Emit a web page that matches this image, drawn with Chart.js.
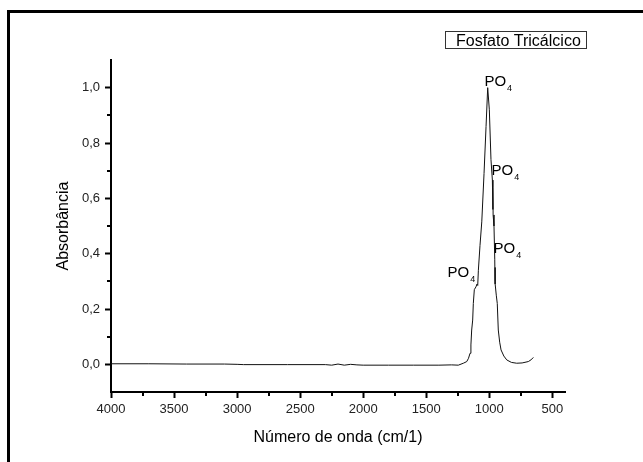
<!DOCTYPE html>
<html lang="pt">
<head>
    <meta charset="UTF-8">
    <title>Fosfato Tricálcico</title>
    <style>
        html, body {
            margin: 0;
            padding: 0;
            background: #fff;
            overflow: hidden;
        }
        .frame {
            position: absolute;
            left: 7px;
            top: 10px;
            width: 800px;
            height: 600px;
            border: 3px solid #000;
        }
        #chart {
            position: absolute;
            left: 0;
            top: 0;
        }
    </style>
</head>
<body>
    <div class="frame"></div>
    <canvas id="chart" width="643" height="462"></canvas>

    <script src="https://cdn.jsdelivr.net/npm/chart.js"></script>
    <script>
        // espectro (número de onda em cm-1, absorbância)
        const wavenumber = [
            4000, 3700, 3400, 3100, 3000, 2950, 2600, 2300, 2250, 2200, 2150, 2100, 2050, 2000,
            1800, 1600, 1400, 1300, 1246, 1206, 1179, 1165, 1153, 1146, 1140, 1132,
            1127, 1119, 1106, 1098, 1092, 1087, 1074, 1060, 1042, 1026, 1013, 1000,
            987, 976, 972, 971.5, 970, 963, 957, 955, 954.5, 953, 945, 937, 929, 918, 907, 885,
            862, 825, 783, 740, 691, 670, 651
        ];
        const absorbance = [
            0.002, 0.002, 0.001, 0.001, 0.000, -0.001, -0.001, -0.001, -0.003, 0.001, -0.003, 0.000, -0.002, -0.003,
            -0.003, -0.003, -0.003, -0.002, -0.003, 0.004, 0.01, 0.022, 0.04, 0.07, 0.124, 0.16,
            0.22, 0.27, 0.28, 0.29, 0.285, 0.34, 0.43, 0.515, 0.69, 0.86, 1.0, 0.92,
            0.74, 0.666, 0.56, 0.64, 0.54, 0.50, 0.38, 0.30, 0.35, 0.29, 0.25, 0.22, 0.124, 0.08, 0.052, 0.03,
            0.016, 0.007, 0.004, 0.005, 0.01, 0.016, 0.025
        ];

        // anotações PO4 (canto inferior esquerdo do texto)
        const labelWavenumber = [1039, 983, 967, 1332];
        const labelAbsorbance = [1.005, 0.686, 0.403, 0.316];

        const xMajorTicks = [4000, 3500, 3000, 2500, 2000, 1500, 1000, 500];
        const xMinorTicks = [3750, 3250, 2750, 2250, 1750, 1250, 750];
        const yMajorTicks = [0.0, 0.2, 0.4, 0.6, 0.8, 1.0];
        const yMinorTicks = [0.1, 0.3, 0.5, 0.7, 0.9];

        const seriesName = 'Fosfato Tricálcico';
        const FONT = "'Liberation Sans', Arial, sans-serif";

        Chart.defaults.font.family = FONT;
        Chart.defaults.color = '#222';

        const points = wavenumber.map((w, i) => ({ x: w, y: absorbance[i] }));

        const extras = {
            id: 'extras',
            afterDraw(chart) {
                const ctx = chart.ctx;
                const xs = chart.scales.x;
                const ys = chart.scales.y;
                const area = chart.chartArea;
                ctx.save();

                // marcas menores
                ctx.strokeStyle = '#000';
                ctx.lineWidth = 2;
                ctx.beginPath();
                xMinorTicks.forEach(v => {
                    const px = Math.round(xs.getPixelForValue(v));
                    ctx.moveTo(px, area.bottom);
                    ctx.lineTo(px, area.bottom + 4);
                });
                yMinorTicks.forEach(v => {
                    const py = Math.round(ys.getPixelForValue(v));
                    ctx.moveTo(area.left, py);
                    ctx.lineTo(area.left - 4, py);
                });
                ctx.stroke();

                // PO4
                ctx.fillStyle = '#000';
                ctx.textBaseline = 'alphabetic';
                ctx.textAlign = 'left';
                labelWavenumber.forEach((w, i) => {
                    const px = xs.getPixelForValue(w);
                    const py = ys.getPixelForValue(labelAbsorbance[i]);
                    ctx.font = '15px ' + FONT;
                    ctx.fillText('PO', px, py);
                    const wPO = ctx.measureText('PO').width;
                    ctx.font = '9px ' + FONT;
                    ctx.fillText('4', px + wPO + 1, py + 5);
                });

                // legenda
                ctx.strokeStyle = '#333';
                ctx.lineWidth = 1;
                ctx.strokeRect(445.5, 31.5, 141, 17);
                ctx.font = '16px ' + FONT;
                ctx.fillStyle = '#000';
                ctx.fillText(seriesName, 456, 46);

                ctx.restore();
            }
        };

        new Chart(document.getElementById('chart'), {
            type: 'line',
            data: {
                datasets: [{
                    label: seriesName,
                    data: points,
                    borderColor: '#111',
                    borderWidth: 1,
                    pointRadius: 0,
                    tension: 0,
                    fill: false
                }]
            },
            options: {
                responsive: false,
                animation: false,
                layout: { padding: { left: 0, top: 60, right: 78, bottom: 0 } },
                plugins: {
                    legend: { display: false },
                    tooltip: { enabled: false }
                },
                scales: {
                    x: {
                        type: 'linear',
                        min: 400,
                        max: 4000,
                        reverse: true,
                        afterFit(scale) { scale.height = 70; },
                        afterBuildTicks(scale) { scale.ticks = xMajorTicks.map(v => ({ value: v })); },
                        border: { display: true, color: '#000', width: 2 },
                        grid: { drawOnChartArea: false, tickLength: 6, tickColor: '#000', tickWidth: 2 },
                        ticks: {
                            font: { size: 13 },
                            padding: 4,
                            maxRotation: 0,
                            autoSkip: false,
                            callback: v => String(v)
                        },
                        title: {
                            display: true,
                            text: 'Número de onda (cm/1)',
                            color: '#000',
                            font: { size: 16 },
                            padding: { top: 0, bottom: 15 }
                        }
                    },
                    y: {
                        min: -0.1,
                        max: 1.1,
                        afterFit(scale) { scale.width = 111; },
                        afterBuildTicks(scale) { scale.ticks = yMajorTicks.map(v => ({ value: v })); },
                        border: { display: true, color: '#000', width: 2 },
                        grid: { drawOnChartArea: false, tickLength: 6, tickColor: '#000', tickWidth: 2 },
                        ticks: {
                            font: { size: 13 },
                            padding: 5,
                            callback: v => v.toFixed(1).replace('.', ',')
                        },
                        title: {
                            display: true,
                            text: 'Absorbância',
                            color: '#000',
                            font: { size: 16 },
                            padding: { top: 54, bottom: 0 }
                        }
                    }
                }
            },
            plugins: [extras]
        });
    </script>
</body>
</html>
